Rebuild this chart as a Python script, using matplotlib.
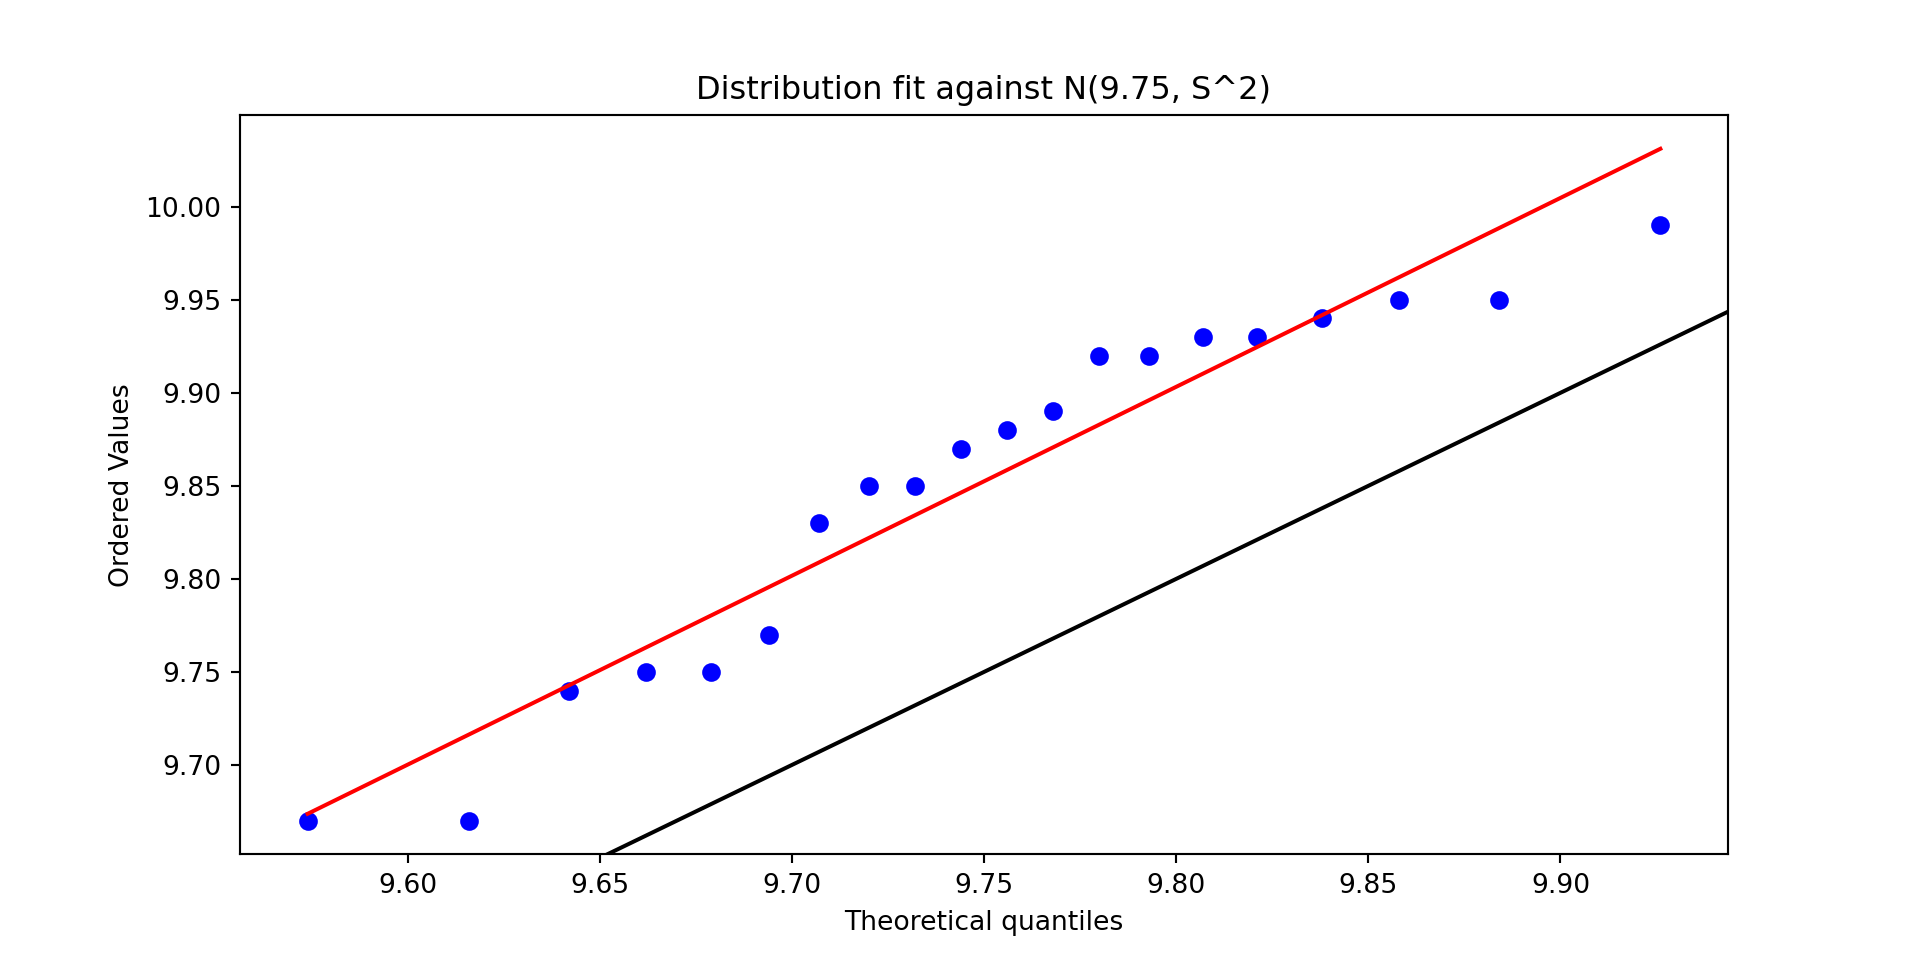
import numpy as np
import matplotlib
matplotlib.use('Agg')
import matplotlib.pyplot as plt

# theoretical quantiles (x) and the sorted sample (y)
quantiles = [9.574, 9.616, 9.642, 9.662, 9.679, 9.694, 9.707, 9.720, 9.732, 9.744,
             9.756, 9.768, 9.780, 9.793, 9.807, 9.821, 9.838, 9.858, 9.884, 9.926]
ordered = [9.67, 9.67, 9.74, 9.75, 9.75, 9.77, 9.83, 9.85, 9.85, 9.87,
           9.88, 9.89, 9.92, 9.92, 9.93, 9.93, 9.94, 9.95, 9.95, 9.99]

x = np.array(quantiles)
y = np.array(ordered)

# least squares fit, as in a probability plot
slope, intercept = np.polyfit(x, y, 1)

fig, ax = plt.subplots(figsize=(10, 5), dpi=192)
ax.plot(x, y, 'bo')
ax.plot(x, slope * x + intercept, 'r-')
xlim = ax.get_xlim()
ylim = ax.get_ylim()
# reference line y = x, keep the limits from the data
ax.axline((0, 0), slope=1, color='k')
ax.set_xlim(xlim)
ax.set_ylim(ylim)

ax.set_title('Distribution fit against N(9.75, S^2)')
ax.set_xlabel('Theoretical quantiles')
ax.set_ylabel('Ordered Values')

fig.savefig('out.png')
